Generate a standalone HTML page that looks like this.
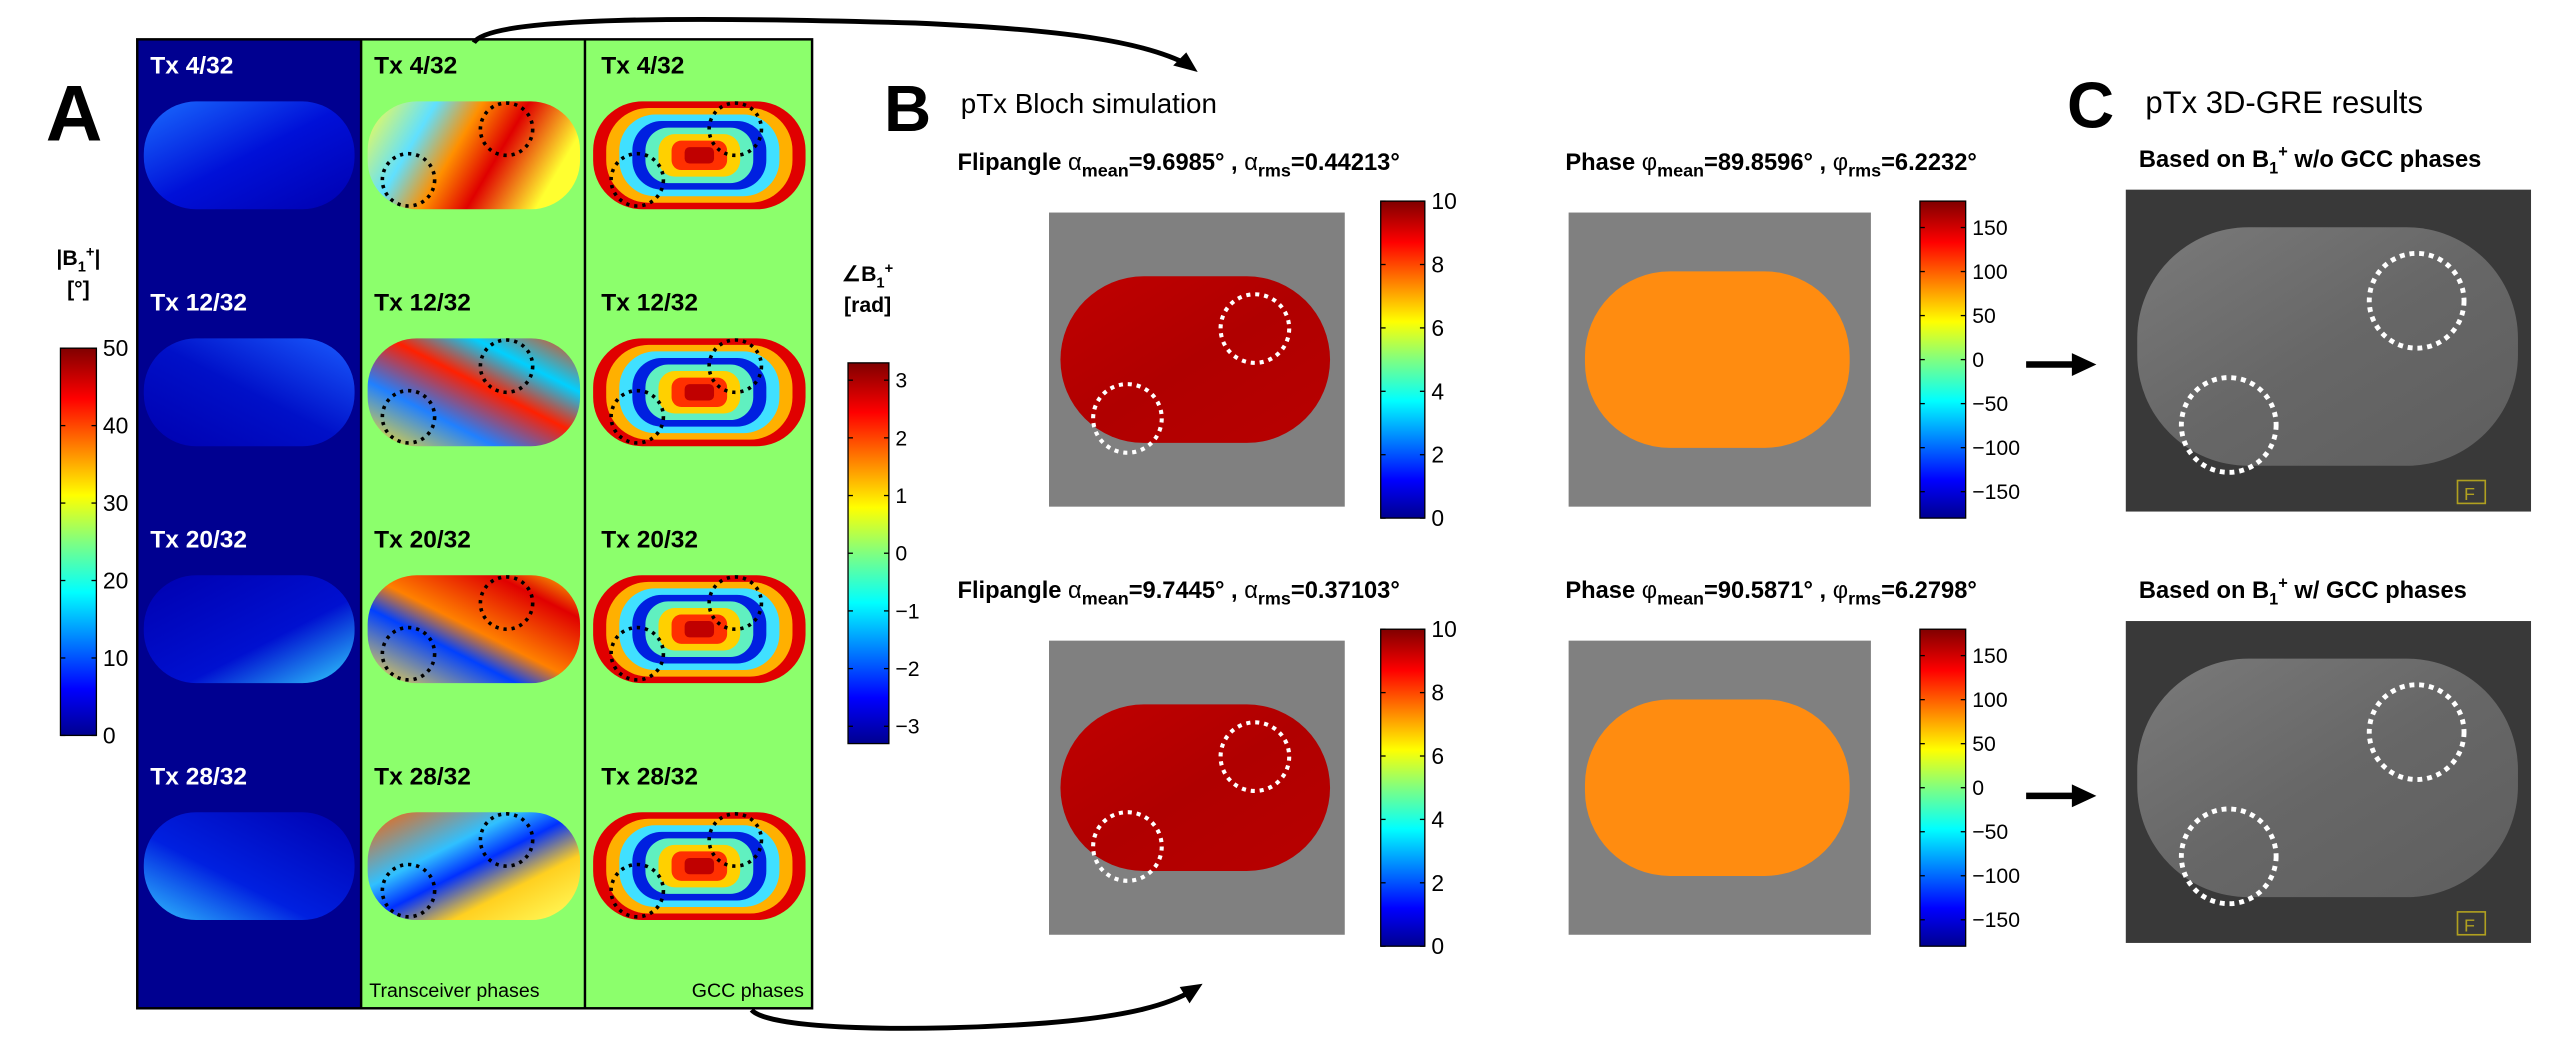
<!DOCTYPE html>
<html><head><meta charset="utf-8"><style>
html,body{margin:0;padding:0;background:#fff;}
svg{display:block;font-family:"Liberation Sans",Arial,sans-serif;}
</style></head><body>
<svg id="fig" width="2549" height="1046" viewBox="0 0 1560 640" xmlns="http://www.w3.org/2000/svg">
<defs>
<linearGradient id="jet" x1="0" y1="1" x2="0" y2="0">
<stop offset="0" stop-color="#00008f"/><stop offset="0.12" stop-color="#0000ff"/><stop offset="0.37" stop-color="#00ffff"/><stop offset="0.5" stop-color="#80ff80"/><stop offset="0.62" stop-color="#ffff00"/><stop offset="0.87" stop-color="#ff0000"/><stop offset="1" stop-color="#800000"/>
</linearGradient>
<linearGradient id="magA" x1="0" y1="0" x2="1" y2="1"><stop offset="0" stop-color="#1a6cff"/><stop offset="0.5" stop-color="#0010d8"/><stop offset="1" stop-color="#0000b0"/></linearGradient>
<linearGradient id="magB" x1="1" y1="0" x2="0" y2="1"><stop offset="0" stop-color="#1a5cff"/><stop offset="0.5" stop-color="#0010c8"/><stop offset="1" stop-color="#0000b0"/></linearGradient>
<linearGradient id="magC" x1="0" y1="0" x2="1" y2="1"><stop offset="0" stop-color="#0000b0"/><stop offset="0.6" stop-color="#0010d0"/><stop offset="1" stop-color="#30d0ff"/></linearGradient>
<linearGradient id="magD" x1="0" y1="1" x2="1" y2="0"><stop offset="0" stop-color="#30c0ff"/><stop offset="0.4" stop-color="#0020e0"/><stop offset="1" stop-color="#0000b0"/></linearGradient>
<linearGradient id="tr1" x1="0" y1="0" x2="1" y2="0.3"><stop offset="0" stop-color="#ffff40"/><stop offset="0.3" stop-color="#60e0ff"/><stop offset="0.5" stop-color="#ff9000"/><stop offset="0.7" stop-color="#e00000"/><stop offset="1" stop-color="#ffff30"/></linearGradient>
<linearGradient id="tr2" x1="0" y1="1" x2="1" y2="0"><stop offset="0" stop-color="#ffe020"/><stop offset="0.3" stop-color="#2080ff"/><stop offset="0.55" stop-color="#ff2000"/><stop offset="0.75" stop-color="#00d0ff"/><stop offset="1" stop-color="#ff4000"/></linearGradient>
<linearGradient id="tr3" x1="0" y1="1" x2="1" y2="0"><stop offset="0" stop-color="#ffe040"/><stop offset="0.35" stop-color="#0040ff"/><stop offset="0.5" stop-color="#ff8000"/><stop offset="0.8" stop-color="#e00000"/><stop offset="1" stop-color="#ffcc00"/></linearGradient>
<linearGradient id="tr4" x1="0" y1="0" x2="1" y2="1"><stop offset="0" stop-color="#ff6000"/><stop offset="0.35" stop-color="#30c0ff"/><stop offset="0.5" stop-color="#0030ff"/><stop offset="0.7" stop-color="#ffd020"/><stop offset="1" stop-color="#ffff60"/></linearGradient>
<linearGradient id="faR" x1="0" y1="0" x2="1" y2="1"><stop offset="0" stop-color="#c00000"/><stop offset="0.5" stop-color="#b00000"/><stop offset="1" stop-color="#b80000"/></linearGradient>
<linearGradient id="gre" x1="0" y1="0" x2="1" y2="1"><stop offset="0" stop-color="#7a7a7a"/><stop offset="0.5" stop-color="#676767"/><stop offset="1" stop-color="#5e5e5e"/></linearGradient>
</defs>

<text x="28" y="86" font-size="48" font-weight="bold">A</text>
<rect x="84" y="24" width="137" height="593" fill="#000090"/>
<rect x="221" y="24" width="276" height="593" fill="#8cff6c"/>
<rect x="84" y="24" width="413" height="593" fill="none" stroke="#000" stroke-width="1.5"/>
<line x1="221" y1="24" x2="221" y2="617" stroke="#000" stroke-width="1.5"/>
<line x1="358" y1="24" x2="358" y2="617" stroke="#000" stroke-width="1.5"/>
<g id="mapsA"></g>
<text x="226" y="610" font-size="12">Transceiver phases</text>
<text x="492" y="610" font-size="12" text-anchor="end">GCC phases</text>

<text x="48" y="162" font-size="13" font-weight="bold" text-anchor="middle">|B<tspan font-size="9" dy="4">1</tspan><tspan font-size="9" dy="-9">+</tspan><tspan dy="5">|</tspan></text>
<text x="48" y="181" font-size="13" font-weight="bold" text-anchor="middle">[°]</text>
<g id="cbA1"></g>
<text x="531" y="172" font-size="13" font-weight="bold" text-anchor="middle">∠B<tspan font-size="9" dy="4">1</tspan><tspan font-size="9" dy="-9">+</tspan></text>
<text x="531" y="191" font-size="13" font-weight="bold" text-anchor="middle">[rad]</text>
<g id="cbA2"></g>

<path d="M290,26 C300,10 420,10 560,14 C650,18 700,25 728,40" fill="none" stroke="#000" stroke-width="3"/>
<polygon points="733,44 718,40 726,32" fill="#000"/>
<path d="M460,618 C470,630 560,632 640,626 C690,622 715,615 730,606" fill="none" stroke="#000" stroke-width="3"/>
<polygon points="736,602 728,614 722,604" fill="#000"/>

<text x="541" y="80" font-size="40" font-weight="bold">B</text>
<text x="588" y="69" font-size="17">pTx Bloch simulation</text>
<g id="panelB"></g>

<text x="1265" y="78" font-size="40" font-weight="bold">C</text>
<text x="1313" y="69" font-size="19">pTx 3D-GRE results</text>
<g id="panelC"></g>
</svg>

<script>
// colorbar data
const magTicks=[0,10,20,30,40,50];
const phaseTicks=[-3,-2,-1,0,1,2,3];
const faTicks=[0,2,4,6,8,10];
const phTicks=[-150,-100,-50,0,50,100,150];
const phRange=[-180,180];
const rowLabels=["Tx 4/32","Tx 12/32","Tx 20/32","Tx 28/32"];
const statsFA=[["9.6985","0.44213"],["9.7445","0.37103"]];
const statsPH=[["89.8596","6.2232"],["90.5871","6.2798"]];
const NS="http://www.w3.org/2000/svg";
function mk(tag,attrs,parent,txt){const e=document.createElementNS(NS,tag);for(const k in attrs)e.setAttribute(k,attrs[k]);if(txt!==undefined)e.textContent=txt;parent.appendChild(e);return e;}

function colorbar(g,x,y,w,h,ticks,lo,hi,fs){
  const r=mk('rect',{x:x,y:y,width:w,height:h,fill:'url(#jet)',stroke:'#000','stroke-width':0.8},g);
  
  
  ticks.forEach(t=>{
    const yy=y+h-(t-lo)/(hi-lo)*h;
    mk('line',{x1:x,x2:x+3,y1:yy,y2:yy,stroke:'#000','stroke-width':0.8},g);
    mk('line',{x1:x+w-3,x2:x+w,y1:yy,y2:yy,stroke:'#000','stroke-width':0.8},g);
    const tx=mk('text',{x:x+w+4,y:yy+fs*0.35,'font-size':fs},g,String(t).replace('-','\u2212'));
    
    
  });
}
colorbar(document.getElementById('cbA1'),37,213,22,237,magTicks,0,50,14);
colorbar(document.getElementById('cbA2'),519,222,25,233,phaseTicks,-3.3,3.3,13);

const A=document.getElementById('mapsA');
const rowY=[95,240,385,530];
const mags=['magA','magB','magC','magD'];
const trs=['tr1','tr2','tr3','tr4'];
rowY.forEach((cy,i)=>{
  ['#fff','#000','#000'].forEach((c,j)=>{
    const t=mk('text',{x:[92,229,368][j],y:cy-50,'font-size':15,'font-weight':'bold',fill:c},A,rowLabels[i]);
    
    
  });
  const m=mk('rect',{x:88,y:cy-33,width:129,height:66,rx:32,fill:'url(#'+mags[i]+')'},A);
  
  
  const p=mk('rect',{x:225,y:cy-33,width:130,height:66,rx:30,fill:'url(#'+trs[i]+')'},A);
  
  
  const g=mk('g',{},A);
  
  
  const cols=['#e00000','#ffb000','#40e0ff','#0020e0','#60f0c0','#ffd000','#ff3000','#c00000'];
  for(let k=0;k<cols.length;k++){
    const ix=k*8, iy=k*4;
    mk('rect',{x:363+ix,y:cy-33+iy,width:130-2*ix,height:Math.max(6,66-2*iy),rx:Math.max(3,30-iy),fill:cols[k]},g);
  }
  [[310,cy-16],[250,cy+15],[450,cy-16],[390,cy+15]].forEach(c=>{
    mk('circle',{cx:c[0],cy:c[1],r:16,fill:'none',stroke:'#000','stroke-width':2.2,'stroke-dasharray':'2 3'},A);
  });
});

const B=document.getElementById('panelB');
[0,1].forEach(r=>{
  const oy=r*262;
  const t1=mk('text',{x:586,y:104+oy,'font-size':14.5,'font-weight':'bold'},B);
  
  
  t1.innerHTML='Flipangle <tspan font-weight="normal">α</tspan><tspan font-size="11" dy="4">mean</tspan><tspan dy="-4">=9.6985°   , </tspan>'.replace('9.6985',statsFA[r][0])+'<tspan font-weight="normal">α</tspan><tspan font-size="11" dy="4">rms</tspan><tspan dy="-4">='+statsFA[r][1]+'°</tspan>';
  const t2=mk('text',{x:958,y:104+oy,'font-size':14.5,'font-weight':'bold'},B);
  
  
  t2.innerHTML='Phase <tspan font-weight="normal">φ</tspan><tspan font-size="11" dy="4">mean</tspan><tspan dy="-4">='+statsPH[r][0]+'°   , </tspan><tspan font-weight="normal">φ</tspan><tspan font-size="11" dy="4">rms</tspan><tspan dy="-4">='+statsPH[r][1]+'°</tspan>';
  const bg=mk('rect',{x:642,y:130+oy,width:181,height:180,fill:'#808080'},B);
  
  
  const fa=mk('rect',{x:649,y:169+oy,width:165,height:102,rx:51,fill:'url(#faR)'},B);
  
  
  const bg2=mk('rect',{x:960,y:130+oy,width:185,height:180,fill:'#808080'},B);
  
  
  const ph=mk('rect',{x:970,y:166+oy,width:162,height:108,rx:52,fill:'#ff8c10'},B);
  
  
  [[768,201+oy],[690,256+oy]].forEach(c=>{
    mk('circle',{cx:c[0],cy:c[1],r:21,fill:'none',stroke:'#fff','stroke-width':2.5,'stroke-dasharray':'2.5 3'},B);
  });
  const g1=mk('g',{},B);
  colorbar(g1,845,123+oy,27,194,faTicks,0,10,14);
  const g2=mk('g',{},B);
  colorbar(g2,1175,123+oy,28,194,phTicks,phRange[0],phRange[1],13);
});

const C=document.getElementById('panelC');
const titlesC=['w/o GCC phases','w/ GCC phases'];
[0,1].forEach(r=>{
  const oy=r*264;
  const t=mk('text',{x:1309,y:102+oy,'font-size':14.5,'font-weight':'bold'},C);
  
  
  t.innerHTML='Based on B<tspan font-size="10" dy="4">1</tspan><tspan font-size="10" dy="-10">+</tspan><tspan dy="6"> '+titlesC[r]+'</tspan>';
  const bg=mk('rect',{x:1301,y:116+oy,width:248,height:197,fill:'#393939'},C);
  
  
  mk('rect',{x:1308,y:139+oy,width:233,height:146,rx:68,fill:'url(#gre)'},C);
  [[1479,184+oy],[1364,260+oy]].forEach(c=>{
    mk('circle',{cx:c[0],cy:c[1],r:29,fill:'none',stroke:'#fff','stroke-width':3,'stroke-dasharray':'3 3'},C);
  });
  mk('rect',{x:1504,y:294+oy,width:17,height:14,fill:'none',stroke:'#b0a020','stroke-width':1},C);
  mk('text',{x:1508,y:306+oy,'font-size':11,fill:'#b0a020'},C,'F');
  const ar=mk('g',{},C);
  
  
  mk('line',{x1:1240,y1:223+oy,x2:1270,y2:223+oy,stroke:'#000','stroke-width':4},ar);
  mk('polygon',{points:'1283,'+(223+oy)+' 1268,'+(216+oy)+' 1268,'+(230+oy),fill:'#000'},ar);
});
</script>
</body></html>
